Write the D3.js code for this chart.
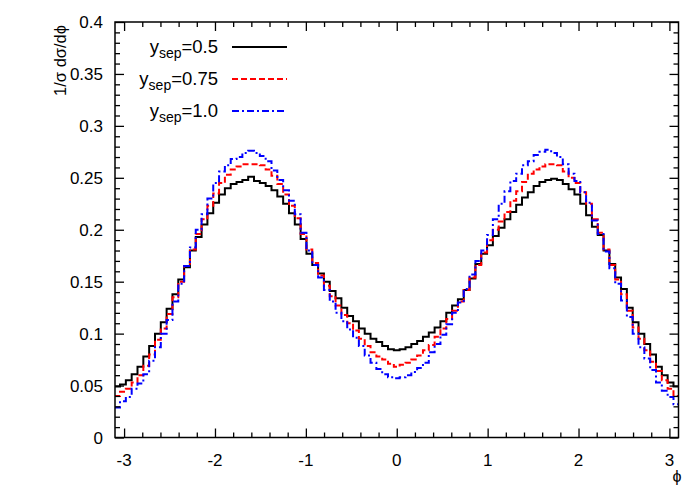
<!DOCTYPE html>
<html>
<head>
<meta charset="utf-8">
<script src="https://cdn.jsdelivr.net/npm/d3@7"></script>
<style>
  body { margin: 0; background: #fff; }
  text { font-family: "Liberation Sans", Arial, sans-serif; fill: #000; }
</style>
</head>
<body>
<div id="chart-wrapper"></div>
<script>
// histogram bins, centred on 0, width in phi
let binWidth = 0.0641
let binIndex = d3.range(-48, 49)
let phiBins = binIndex.map(k => k * binWidth)

// 1/sigma dsigma/dphi, one value per bin (left to right)
let ysep05 = [
  0.049, 0.051, 0.055, 0.061, 0.068, 0.078, 0.088, 0.100, 0.111, 0.124,
  0.138, 0.152, 0.164, 0.180, 0.193, 0.205, 0.216, 0.226, 0.234, 0.240,
  0.244, 0.246, 0.248, 0.251, 0.247, 0.245, 0.242, 0.238, 0.232, 0.225,
  0.216, 0.205, 0.191, 0.177, 0.166, 0.158, 0.150, 0.141, 0.134, 0.125,
  0.117, 0.112, 0.105, 0.100, 0.095, 0.092, 0.088, 0.085, 0.084, 0.085,
  0.087, 0.090, 0.093, 0.097, 0.101, 0.106, 0.112, 0.120, 0.127, 0.133,
  0.142, 0.153, 0.167, 0.177, 0.185, 0.194, 0.202, 0.210, 0.217, 0.224,
  0.231, 0.236, 0.242, 0.246, 0.248, 0.249, 0.248, 0.244, 0.239, 0.234,
  0.225, 0.214, 0.203, 0.195, 0.180, 0.167, 0.154, 0.143, 0.125, 0.111,
  0.100, 0.090, 0.080, 0.068, 0.060, 0.053, 0.049
]
let ysep075 = [
  0.040, 0.044, 0.047, 0.053, 0.060, 0.069, 0.080, 0.094, 0.105, 0.119,
  0.135, 0.150, 0.165, 0.181, 0.196, 0.210, 0.223, 0.235, 0.245, 0.253,
  0.258, 0.261, 0.263, 0.263, 0.263, 0.262, 0.258, 0.252, 0.244, 0.234,
  0.223, 0.211, 0.196, 0.181, 0.168, 0.156, 0.146, 0.136, 0.127, 0.118,
  0.110, 0.103, 0.095, 0.088, 0.082, 0.078, 0.075, 0.071, 0.068, 0.070,
  0.072, 0.075, 0.079, 0.084, 0.089, 0.097, 0.105, 0.114, 0.122, 0.131,
  0.142, 0.154, 0.166, 0.178, 0.190, 0.200, 0.208, 0.217, 0.228, 0.237,
  0.246, 0.254, 0.258, 0.261, 0.263, 0.263, 0.262, 0.256, 0.250, 0.245,
  0.236, 0.225, 0.210, 0.197, 0.181, 0.166, 0.152, 0.138, 0.122, 0.106,
  0.095, 0.084, 0.073, 0.064, 0.055, 0.047, 0.040
]
let ysep10 = [
  0.029, 0.035, 0.039, 0.047, 0.052, 0.061, 0.074, 0.087, 0.100, 0.113,
  0.131, 0.148, 0.165, 0.183, 0.200, 0.215, 0.230, 0.245, 0.256, 0.262,
  0.268, 0.270, 0.274, 0.276, 0.274, 0.271, 0.266, 0.257, 0.248, 0.238,
  0.228, 0.215, 0.197, 0.180, 0.166, 0.154, 0.142, 0.131, 0.120, 0.112,
  0.104, 0.096, 0.088, 0.079, 0.072, 0.066, 0.061, 0.058, 0.057, 0.058,
  0.060, 0.063, 0.067, 0.072, 0.082, 0.090, 0.099, 0.109, 0.120, 0.130,
  0.143, 0.157, 0.170, 0.180, 0.195, 0.210, 0.225, 0.237, 0.247, 0.254,
  0.262, 0.266, 0.272, 0.275, 0.277, 0.274, 0.270, 0.263, 0.254, 0.247,
  0.236, 0.226, 0.209, 0.196, 0.179, 0.163, 0.148, 0.132, 0.116, 0.100,
  0.087, 0.076, 0.065, 0.053, 0.045, 0.039, 0.032
]
let seriesLabels = ["0.5", "0.75", "1.0"]
let xTicks = [-3, -2, -1, 0, 1, 2, 3]
let yTicks = [0, 0.05, 0.1, 0.15, 0.2, 0.25, 0.3, 0.35, 0.4]

let width = 698, height = 489
let margin = {top: 22, right: 19.5, bottom: 51.5, left: 115}

let svg = d3.select("#chart-wrapper")
  .append("svg")
  .attr("width", width)
  .attr("height", height)

let x = d3.scaleLinear().domain([-3.1, 3.1]).range([margin.left, width - margin.right])
let y = d3.scaleLinear().domain([0, 0.4]).range([height - margin.bottom, margin.top])

svg.append("clipPath").attr("id", "plot-clip")
  .append("rect")
  .attr("x", x(-3.1)).attr("y", y(0.4))
  .attr("width", x(3.1) - x(-3.1)).attr("height", y(0) - y(0.4))

// Histograms as step lines
let series = [
  {values: ysep05, color: "#000000", dash: null},
  {values: ysep075, color: "#ff0000", dash: "6,3"},
  {values: ysep10, color: "#0000ff", dash: "7,3,2,3"}
]
let stepLine = d3.line().x(d => x(d[0])).y(d => y(d[1]))

series.forEach(s => {
  let pts = []
  phiBins.forEach((c, i) => {
    pts.push([c - binWidth / 2, s.values[i]])
    pts.push([c + binWidth / 2, s.values[i]])
  })
  svg.append("path")
    .attr("clip-path", "url(#plot-clip)")
    .attr("fill", "none")
    .attr("stroke", s.color)
    .attr("stroke-width", 2)
    .attr("stroke-dasharray", s.dash)
    .attr("d", stepLine(pts))
})

// Axes: ticks inside, mirrored on top and right
let plotH = y(0) - y(0.4), plotW = x(3.1) - x(-3.1)
let xMinor = d3.range(-30, 31, 2).map(v => v / 10).filter(v => !xTicks.includes(v))
let yMinor = d3.range(0, 41).map(v => v / 100).filter(v => !yTicks.some(t => Math.abs(t - v) < 1e-9))

function xAxisG(ticks, size, pos, mirror) {
  let ax = (mirror ? d3.axisTop(x) : d3.axisBottom(x)).tickValues(ticks).tickSize(-size).tickFormat("")
  svg.append("g").attr("class", "xAxis").attr("transform", `translate(0,${pos})`).call(ax)
}
function yAxisG(ticks, size, pos, mirror) {
  let ax = (mirror ? d3.axisRight(y) : d3.axisLeft(y)).tickValues(ticks).tickSize(-size).tickFormat("")
  svg.append("g").attr("class", "yAxis").attr("transform", `translate(${pos},0)`).call(ax)
}
xAxisG(xTicks, 9, y(0), false)
xAxisG(xMinor, 5, y(0), false)
xAxisG(xTicks, 9, y(0.4), true)
xAxisG(xMinor, 5, y(0.4), true)
yAxisG(yTicks, 9, x(-3.1), false)
yAxisG(yMinor, 5, x(-3.1), false)
yAxisG(yTicks, 9, x(3.1), true)
yAxisG(yMinor, 5, x(3.1), true)

svg.selectAll(".xAxis path, .yAxis path").remove()
svg.selectAll(".xAxis line, .yAxis line").attr("stroke", "#000").attr("stroke-width", 1.3)

svg.append("rect")
  .attr("x", x(-3.1)).attr("y", y(0.4))
  .attr("width", plotW).attr("height", plotH)
  .attr("fill", "none").attr("stroke", "#000").attr("stroke-width", 1.5)

// Tick labels
svg.append("g").selectAll("text").data(xTicks).enter().append("text")
  .attr("x", d => x(d)).attr("y", y(0) + 28)
  .attr("text-anchor", "middle").attr("font-size", 17)
  .text(d => d)
svg.append("g").selectAll("text").data(yTicks).enter().append("text")
  .attr("x", x(-3.1) - 12).attr("y", d => y(d) + 6)
  .attr("text-anchor", "end").attr("font-size", 17)
  .text(d => d)

// Axis titles
svg.append("text")
  .attr("transform", `translate(66,25) rotate(-90)`)
  .attr("text-anchor", "end").attr("font-size", 16.5)
  .text("1/σ dσ/dϕ")
svg.append("text")
  .attr("x", x(3.1) - 1.5).attr("y", y(0) + 44)
  .attr("text-anchor", "middle").attr("font-size", 16)
  .text("ϕ")

// Legend
let legend = svg.append("g")
series.forEach((s, i) => {
  let ly = 47 + i * 32
  let t = legend.append("text")
    .attr("x", 218).attr("y", ly + 6)
    .attr("text-anchor", "end").attr("font-size", 18.5)
  t.append("tspan").text("y")
  t.append("tspan").attr("font-size", 14).attr("dy", 5).text("sep")
  t.append("tspan").attr("dy", -5).text("=" + seriesLabels[i])
  legend.append("line")
    .attr("x1", 232).attr("x2", 287).attr("y1", ly).attr("y2", ly)
    .attr("stroke", s.color).attr("stroke-width", 2)
    .attr("stroke-dasharray", s.dash)
})
</script>
</body>
</html>
